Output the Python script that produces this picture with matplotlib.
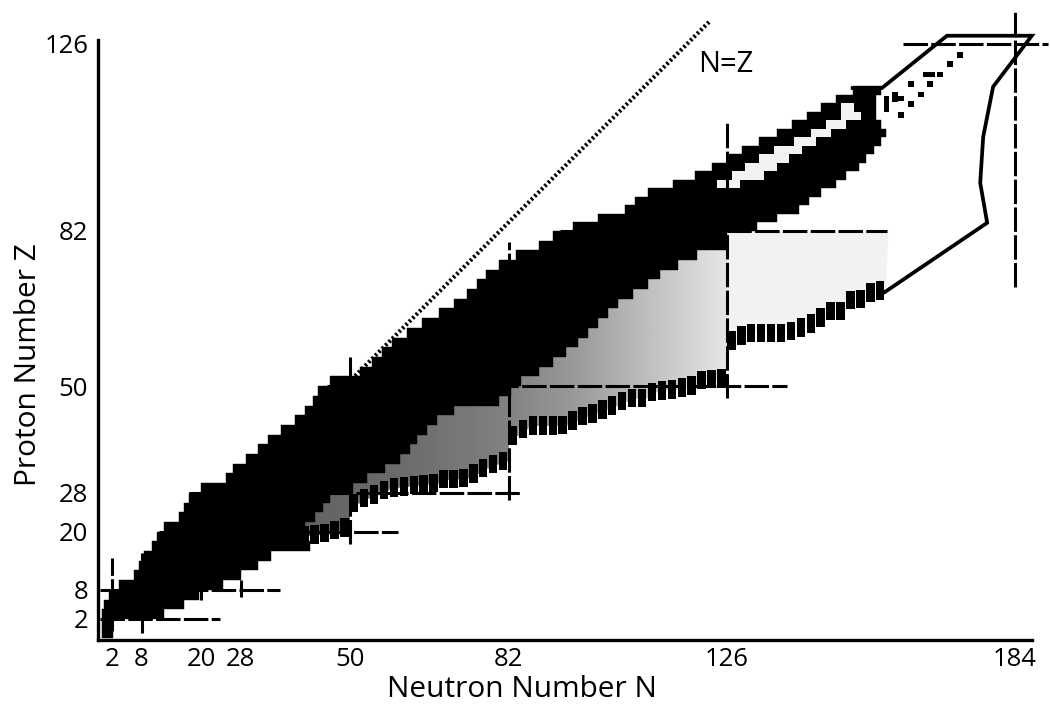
import numpy as np
import matplotlib
matplotlib.use("Agg")
import matplotlib.pyplot as plt
from matplotlib.patches import Polygon

plt.rcParams['font.family'] = ['Open Sans', 'DejaVu Sans']

# ---------------------------------------------------------------- data
# magic numbers used as ticks
tick_n = [2, 8, 20, 28, 50, 82, 126, 184]
tick_z = [2, 8, 20, 28, 50, 82, 126]

# known nuclides, one row per two protons: row centre Z and neutron range
row_z = [-1, 1, 3, 5, 7, 9, 11, 13, 15, 17, 19, 21, 23, 25, 27, 29, 31, 33,
         35, 37, 39, 41, 43, 45, 47, 49, 51, 53, 55, 57, 59, 61, 63, 65, 67,
         69, 71, 73, 75, 77, 79, 81, 83, 85, 87, 89, 91, 93, 95, 97, 99, 101,
         103, 105, 107, 109, 111, 113, 115]
row_n_lo = [0, 0, 0, 0.5, 1.5, 3.5, 6.5, 7.5, 8.5, 10, 11, 12.5, 15.5, 16.5,
            17.5, 20, 25, 26.5, 29, 31.5, 33.5, 36, 39, 41, 42.5, 43.5, 46,
            52, 54.5, 56.5, 58.5, 61.5, 64.5, 68, 71, 73.5, 75.5, 77.5, 80,
            83.5, 88, 91, 95, 100, 105.5, 107.5, 110, 115, 119.5, 123, 126,
            129, 132.5, 136, 139, 142, 145, 148, 151.3]
row_n_hi = [2.2, 2.2, 12.5, 16.5, 19.5, 24.5, 28, 31.5, 34, 42, 41, 41, 43,
            44.5, 46, 50.5, 53.5, 57, 60, 62, 63.5, 65.5, 67.5, 71, 80, 82.5,
            84.5, 88, 91, 93.5, 96, 98, 100, 102, 104, 107, 110, 112.5, 116,
            120, 126, 126, 132, 136, 140.5, 142.5, 145, 148, 150, 152.5, 154,
            155.5, 157, 158, 157, 156, 156, 156, 157]

# unexplored stripe between the proton-rich rim and the heavy rows
gap_z = [93, 95, 97, 99, 101, 103, 105, 107, 109, 111]
gap_n_lo = [124, 127, 129.5, 132.5, 135.5, 139.5, 143, 146, 149, 149]
gap_n_hi = [128.5, 133.5, 136, 138.5, 141, 144, 147, 150, 153, 151.5]

# neutron-rich boundary (r-process path), one column per two neutrons
edge_n = [40, 42, 44, 46, 48, 50, 52, 54, 56, 58, 60, 62, 64, 66, 68, 70,
          72, 74, 76, 78, 80, 82, 84, 86, 88, 90, 92, 94, 96, 98, 100, 102,
          104, 106, 108, 110, 112, 114, 116, 118, 120, 122, 124, 126, 128,
          130, 132, 134, 136, 138, 140, 142, 144, 146, 148, 150, 152, 154, 156]
edge_z = [17.3, 17.5, 17.8, 18.4, 19.0, 24.0, 25.0, 25.8, 26.7, 27.2, 27.4,
          27.7, 27.9, 28.1, 28.9, 29.0, 29.2, 30.1, 31.2, 32.0, 32.7, 37.9,
          39.3, 40.0, 40.0, 40.0, 40.1, 41.0, 41.9, 42.5, 43.3, 44.1, 45.0,
          45.6, 45.7, 46.9, 47.2, 47.4, 47.8, 48.2, 49.4, 49.6, 49.7, 57.5,
          58.5, 59.1, 59.1, 59.1, 59.1, 59.5, 60.2, 61.0, 62.2, 63.6, 63.6,
          65.8, 66.1, 67.4, 67.8]

# upper limit of the unmeasured neutron-rich area (under the known rows)
gray_top_n = [126, 82, 50, 38]
gray_top_z = [84, 55, 31, 21]
# upper limit of the area beyond N = 126
light_top_n = [158.5, 126]
light_top_z = [82, 82]

# superheavy isotopes
she_n = [158.1, 158.1, 158.1, 159.9, 159.9, 161.1, 163.1, 161.1, 163.1,
         165.1, 166.1, 167.3, 166.9, 168.9, 170.9, 172.9]
she_z = [110.6, 111.8, 113.0, 112.9, 114.1, 113.1, 111.8, 109.3, 116.5,
         114.1, 118.8, 118.8, 116.5, 118.8, 121.2, 123.4]

# predicted region of superheavy nuclei
outline_n = [151.3, 157.2, 170.3, 187.4, 179.6, 177.6, 177.0, 178.4, 157.8]
outline_z = [115.6, 115.6, 127.9, 127.9, 115.9, 104.1, 93.3, 83.9, 69.4]

# shell closures: vertical lines (fixed N) and horizontal lines (fixed Z)
vline_n = [2, 8, 20, 28, 50, 82, 126, 184]
vline_z_lo = [-0.5, -0.9, 5.9, 6.5, 17.5, 26.5, 47.5, 70.4]
vline_z_hi = [14.6, 15.8, 8.4, 10.0, 56.0, 79.7, 107.6, 134.0]
hline_z = [2, 8, 20, 28, 50, 82, 126]
hline_n_lo = [-0.4, -0.4, 11.5, 17.5, 45.4, 92.3, 161.4]
hline_n_hi = [23.8, 35.9, 59.7, 84.3, 138.1, 158.2, 190.7]

# N = Z guide line
nz_n = [51.0, 122.4]
nz_z = [52.1, 131.2]

# shading of the neutron-rich area (0 black .. 1 white) along N
shade_n = [36, 60, 80, 95, 110, 126, 128]
shade_v = [0.38, 0.42, 0.5, 0.6, 0.75, 0.9, 0.9]

# ---------------------------------------------------------------- figure
fig = plt.figure(figsize=(10.5, 7.09), dpi=100)
ax = fig.add_axes([98 / 1050, 69 / 709, 942 / 1050, 635 / 709])

# proton axis is drawn compressed above Z = 82
_k = 4.25 / 4.85


def _fwd(z):
    z = np.asarray(z, dtype=float)
    return np.where(z <= 82, z, 82 + (z - 82) * _k)


def _inv(u):
    u = np.asarray(u, dtype=float)
    return np.where(u <= 82, u, 82 + (u - 82) / _k)


ax.set_yscale('function', functions=(_fwd, _inv))

# neutron-rich area with a grey gradient
lower = []
for n, zb in zip(edge_n, edge_z):
    if n < 126:
        lower += [(n, zb + 1.8), (n + 2, zb + 1.8)]
gray_poly = lower + list(zip(gray_top_n, gray_top_z))
gray_patch = Polygon(gray_poly, closed=True, facecolor='none',
                     edgecolor='none', zorder=1)
ax.add_patch(gray_patch)
grid_n = np.linspace(36, 128, 400)
img = np.interp(grid_n, shade_n, shade_v)[None, :]
im = ax.imshow(img, extent=(36, 128, 15, 86), origin='lower', cmap='gray',
               vmin=0, vmax=1, aspect='auto', interpolation='bilinear',
               zorder=1)
im.set_clip_path(gray_patch)

lower_r = []
for n, zb in zip(edge_n, edge_z):
    if n >= 126:
        lower_r += [(n, zb + 1.8), (n + 2, zb + 1.8)]
light_poly = lower_r + list(zip(light_top_n, light_top_z))
ax.add_patch(Polygon(light_poly, closed=True, facecolor='#f2f2f2',
                     edgecolor='none', zorder=1))

# known nuclides
row_z_a = np.array(row_z, dtype=float)
row_lo = np.array(row_n_lo)
row_hi = np.array(row_n_hi)
ax.barh(row_z_a, row_hi - row_lo, left=row_lo, height=2.0, color='black',
        edgecolor='black', linewidth=0.3, zorder=2)
ax.barh(gap_z, np.array(gap_n_hi) - np.array(gap_n_lo), left=gap_n_lo,
        height=2.0, color='#f2f2f2', edgecolor='none', zorder=2.5)

# neutron-rich boundary columns
ax.bar(edge_n, 3.8, bottom=edge_z, width=1.7, align='edge', color='black',
       edgecolor='none', zorder=3)

# superheavy isotopes
ax.bar(np.array(she_n) - 0.58, 1.3, bottom=np.array(she_z) - 0.65,
       width=1.15, align='edge', color='black', edgecolor='none', zorder=3)

# outline of the predicted superheavy region
ax.plot(outline_n, outline_z, color='black', lw=2.7, solid_joinstyle='miter',
        zorder=4, clip_on=False)

# shell closures
dash = (0, (8, 1.1))
for n, lo, hi in zip(vline_n, vline_z_lo, vline_z_hi):
    ax.plot([n, n], [lo, hi], color='black', lw=2.2, ls=dash, zorder=4,
            clip_on=False)
for z, lo, hi in zip(hline_z, hline_n_lo, hline_n_hi):
    ax.plot([lo, hi], [z, z], color='black', lw=2.2, ls=dash, zorder=4,
            clip_on=False)

# N = Z line
ax.plot(nz_n, nz_z, color='black', lw=3.0, ls=(0, (0.55, 0.6)), zorder=4)
ax.text(120.1, 119.4, 'N=Z', fontsize=21, ha='left', va='baseline')

# axes
ax.set_xlim(-0.79, 189.05)
ax.set_ylim(-2.33, 135.13)
for side in ('top', 'right'):
    ax.spines[side].set_visible(False)
for side in ('left', 'bottom'):
    ax.spines[side].set_linewidth(2.4)
    ax.spines[side].set_capstyle('projecting')
ax.spines['left'].set_bounds(-2.33, 126.94)
ax.spines['bottom'].set_bounds(-0.79, 187.45)

ax.set_xticks(tick_n)
ax.set_xticklabels([str(v) for v in tick_n])
ax.set_yticks(tick_z)
ax.set_yticklabels([str(v) for v in tick_z])
ax.minorticks_off()
ax.tick_params(axis='both', length=0, labelsize=18.5)
ax.tick_params(axis='x', pad=5)
ax.tick_params(axis='y', pad=7)

ax.set_xlabel('Neutron Number N', fontsize=21.5)
ax.xaxis.label.set_va('baseline')
ax.xaxis.set_label_coords(0.4501, -0.0898)
ax.set_ylabel('Proton Number Z', fontsize=21.5)
ax.yaxis.label.set_va('baseline')
ax.yaxis.set_label_coords(-0.0658, 0.4331)

fig.savefig('out.png', dpi=100)
